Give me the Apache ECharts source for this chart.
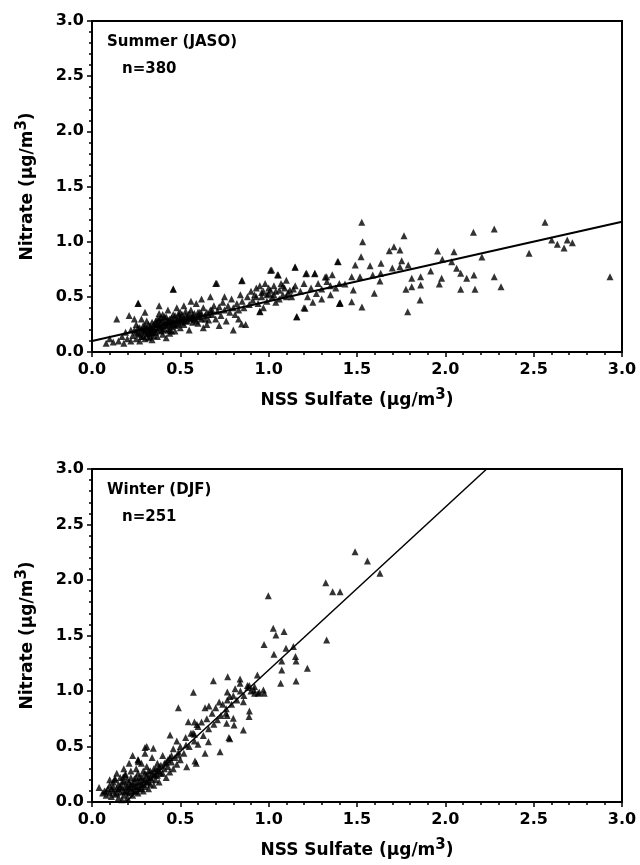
<!DOCTYPE html>
<html>
<head>
<meta charset="utf-8">
<script src="https://cdn.jsdelivr.net/npm/echarts@6/dist/echarts.min.js"></script>
<style>html,body{margin:0;padding:0;background:#fff}#c{width:640px;height:865px}</style>
</head>
<body>
<div id="c"></div>
<script>
// ---- Data ----
var axisTicks = [0.0, 0.5, 1.0, 1.5, 2.0, 2.5, 3.0];
var summerLabel = 'Summer (JASO)';
var summerN = 'n=380';
var winterLabel = 'Winter (DJF)';
var winterN = 'n=251';

var summerPoints = [
 [0.08,0.08],[0.1,0.12],[0.12,0.09],[0.14,0.3],[0.15,0.1],[0.17,0.14],[0.18,0.08],[0.2,0.12],[0.21,0.33],[0.22,0.1],[0.19,0.18],
 [0.23,0.15],[0.24,0.2],[0.25,0.12],[0.25,0.25],[0.26,0.17],[0.27,0.22],[0.27,0.1],[0.28,0.14],[0.28,0.3],[0.29,0.19],[0.3,0.12],[0.3,0.24],[0.31,0.16],[0.31,0.28],[0.32,0.2],[0.32,0.13],[0.33,0.23],[0.33,0.17],[0.34,0.11],[0.34,0.27],[0.35,0.21],[0.35,0.15],[0.26,0.44],[0.3,0.36],[0.24,0.3],[0.22,0.2],
 [0.25,0.18],[0.26,0.22],[0.27,0.16],[0.28,0.2],[0.29,0.24],[0.29,0.14],[0.3,0.18],[0.3,0.21],[0.31,0.22],[0.32,0.25],[0.32,0.17],[0.33,0.2],[0.33,0.14],[0.34,0.22],[0.34,0.18],[0.35,0.25],[0.35,0.18],[0.36,0.22],[0.36,0.28],[0.37,0.2],[0.37,0.26],[0.38,0.25],[0.38,0.3],[0.39,0.23],[0.39,0.31],[0.4,0.2],[0.4,0.34],[0.41,0.26],[0.42,0.24],[0.42,0.32],[0.43,0.2],[0.43,0.29],[0.44,0.26],[0.45,0.31],[0.45,0.19],[0.46,0.25],[0.46,0.28],[0.47,0.33],[0.47,0.24],[0.48,0.29],[0.49,0.26],[0.49,0.35],[0.5,0.31],[0.51,0.27],[0.51,0.34],[0.52,0.3],[0.53,0.28],[0.53,0.37],[0.54,0.32],[0.55,0.35],[0.56,0.3],[0.57,0.31],[0.58,0.35],[0.59,0.28],[0.6,0.36],[0.61,0.32],[0.62,0.35],[0.64,0.3],[0.66,0.34],[0.68,0.38],
 [0.36,0.18],[0.36,0.25],[0.37,0.3],[0.37,0.14],[0.38,0.22],[0.38,0.35],[0.39,0.19],[0.39,0.27],[0.4,0.24],[0.4,0.16],[0.41,0.32],[0.41,0.21],[0.42,0.28],[0.42,0.13],[0.43,0.25],[0.43,0.38],[0.44,0.2],[0.44,0.3],[0.45,0.23],[0.45,0.27],[0.46,0.34],[0.46,0.57],[0.47,0.19],[0.47,0.29],[0.48,0.25],[0.48,0.4],[0.49,0.31],[0.5,0.22],[0.5,0.28],[0.5,0.36],[0.38,0.42],[0.44,0.17],[0.4,0.29],
 [0.51,0.3],[0.52,0.25],[0.52,0.42],[0.53,0.33],[0.54,0.28],[0.55,0.31],[0.55,0.2],[0.56,0.38],[0.57,0.27],[0.57,0.34],[0.58,0.3],[0.59,0.44],[0.6,0.32],[0.6,0.26],[0.61,0.36],[0.62,0.3],[0.63,0.4],[0.63,0.22],[0.64,0.33],[0.65,0.36],[0.66,0.29],[0.67,0.38],[0.67,0.5],[0.68,0.34],[0.69,0.42],[0.7,0.3],[0.7,0.62],[0.62,0.48],[0.56,0.46],[0.65,0.25],
 [0.71,0.37],[0.72,0.41],[0.73,0.33],[0.74,0.45],[0.75,0.38],[0.76,0.28],[0.77,0.42],[0.78,0.36],[0.79,0.48],[0.8,0.4],[0.8,0.2],[0.81,0.34],[0.82,0.44],[0.83,0.38],[0.84,0.52],[0.85,0.46],[0.85,0.65],[0.86,0.4],[0.87,0.25],[0.88,0.5],[0.89,0.43],[0.9,0.55],[0.75,0.5],[0.72,0.24],[0.83,0.3],
 [0.91,0.47],[0.92,0.52],[0.93,0.58],[0.94,0.44],[0.95,0.37],[0.95,0.6],[0.96,0.5],[0.97,0.55],[0.98,0.62],[0.99,0.46],[1.0,0.53],[1.0,0.58],[1.01,0.74],[1.02,0.5],[1.03,0.6],[1.04,0.55],[1.05,0.7],[1.06,0.48],[1.07,0.62],[1.08,0.52],[1.09,0.58],[1.1,0.5],[1.1,0.65],[0.97,0.4],[1.04,0.45],
 [0.93,0.5],[0.96,0.54],[0.99,0.52],[1.01,0.56],[1.03,0.52],[1.06,0.56],[1.08,0.6],[1.11,0.54],[1.14,0.57],
 [1.12,0.56],[1.13,0.5],[1.15,0.77],[1.15,0.6],[1.16,0.32],[1.18,0.55],[1.2,0.62],[1.21,0.71],[1.22,0.5],[1.24,0.58],[1.26,0.71],[1.27,0.53],[1.28,0.62],[1.3,0.57],[1.32,0.68],[1.33,0.64],[1.35,0.6],[1.36,0.7],[1.38,0.58],[1.39,0.82],[1.4,0.44],[1.4,0.62],[1.2,0.4],[1.25,0.45],[1.3,0.48],[1.35,0.52],
 [1.394,0.818],[1.215,0.713],[1.149,0.768],[1.017,0.743],[1.055,0.698],[1.262,0.713],[0.847,0.646],[0.706,0.622],[0.46,0.568],[0.262,0.441],[1.404,0.441],[1.158,0.32],[0.847,0.254],[1.206,0.396],[0.951,0.365],[1.328,0.683],
 [1.527,1.175],[1.532,1.0],[1.766,1.054],[2.159,1.085],[2.277,1.115],[2.564,1.175],[2.602,1.015],[2.634,0.976],[2.672,0.943],[2.69,1.015],[2.719,0.991],[2.474,0.894],[2.932,0.683],[2.315,0.592],[2.277,0.683],[2.168,0.568],[2.162,0.698],[2.121,0.668],[2.087,0.568],[2.064,0.759],[2.087,0.713],[2.207,0.861],[2.049,0.909],[2.036,0.818],[1.983,0.84],[1.956,0.915],[1.979,0.668],[1.966,0.616],[1.917,0.734],[1.857,0.471],[1.86,0.607],[1.86,0.683],[1.81,0.592],[1.81,0.668],[1.777,0.568],[1.79,0.789],[1.753,0.828],[1.743,0.925],[1.709,0.955],[1.683,0.918],[1.743,0.773],[1.70,0.761],[1.636,0.804],[1.634,0.713],[1.63,0.643],[1.589,0.698],[1.598,0.532],[1.574,0.782],[1.523,0.864],[1.49,0.789],[1.517,0.683],[1.47,0.683],[1.432,0.616],[1.479,0.562],[1.47,0.456],[1.528,0.408],[1.787,0.365],[1.404,0.447]
];
var summerFit = [[0.0,0.10],[3.0,1.18]];

var winterPoints = [
 [0.04,0.13],[0.06,0.08],[0.07,0.1],[0.08,0.06],[0.09,0.12],[0.1,0.08],[0.1,0.15],[0.11,0.05],[0.12,0.1],[0.12,0.18],[0.13,0.2],[0.13,0.07],[0.14,0.12],[0.15,0.04],[0.15,0.16],[0.16,0.09],[0.16,0.22],[0.17,0.02],[0.17,0.13],[0.18,0.06],[0.18,0.19],[0.19,0.1],[0.19,0.25],[0.2,0.14],[0.2,0.04],[0.21,0.18],[0.21,0.08],[0.22,0.12],[0.22,0.28],[0.23,0.16],[0.23,0.06],[0.24,0.21],[0.24,0.1],[0.25,0.14],[0.25,0.3],[0.26,0.18],[0.26,0.08],[0.27,0.23],[0.27,0.12],[0.28,0.16],[0.28,0.35],[0.29,0.2],[0.29,0.1],[0.3,0.26],[0.3,0.14],[0.31,0.18],[0.31,0.32],[0.32,0.22],[0.32,0.12],[0.33,0.28],[0.33,0.16],[0.34,0.2],[0.34,0.4],[0.35,0.25],[0.35,0.15],[0.36,0.3],[0.36,0.2],[0.37,0.35],[0.37,0.24],[0.38,0.28],[0.38,0.18],[0.39,0.33],[0.4,0.26],[0.4,0.42],[0.41,0.3],[0.42,0.36],[0.42,0.22],[0.43,0.32],[0.44,0.4],[0.44,0.27],[0.45,0.36],[0.46,0.3],[0.46,0.48],[0.47,0.4],[0.48,0.34],[0.48,0.55],[0.49,0.45],[0.5,0.38],[0.5,0.5],[0.14,0.26],[0.18,0.3],[0.21,0.35],[0.26,0.38],[0.3,0.44],[0.23,0.42],[0.1,0.2],
 [0.08,0.1],[0.11,0.12],[0.12,0.14],[0.14,0.08],[0.15,0.12],[0.16,0.14],[0.17,0.18],[0.18,0.1],[0.19,0.15],[0.2,0.2],[0.2,0.09],[0.21,0.13],[0.22,0.16],[0.22,0.22],[0.23,0.1],[0.24,0.14],[0.24,0.18],[0.25,0.22],[0.25,0.1],[0.26,0.26],[0.26,0.14],[0.27,0.18],[0.28,0.22],[0.28,0.12],[0.29,0.16],[0.29,0.28],[0.3,0.2],[0.31,0.24],[0.32,0.18],[0.32,0.28],[0.33,0.22],[0.34,0.26],[0.35,0.3],[0.36,0.24],[0.37,0.28],[0.38,0.32],[0.39,0.26],[0.41,0.35],[0.43,0.38],[0.45,0.42],
 [0.52,0.44],[0.53,0.58],[0.55,0.5],[0.56,0.62],[0.58,0.55],[0.6,0.68],[0.6,0.52],[0.62,0.72],[0.63,0.6],[0.65,0.75],[0.66,0.66],[0.68,0.8],[0.69,0.7],[0.7,0.85],[0.71,0.74],[0.72,0.9],[0.73,0.78],[0.74,0.88],[0.76,0.84],[0.78,0.95],[0.79,0.88],[0.81,1.02],[0.82,0.92],[0.84,1.0],[0.86,0.96],[0.88,1.05],[0.9,1.0],[0.92,1.04],[0.94,0.98],
 [1.323,1.976],[1.362,1.895],[1.404,1.895],[0.998,1.859],[1.026,1.565],[1.041,1.505],[1.087,1.535],[0.974,1.42],[1.328,1.459],[1.03,1.33],[1.098,1.385],[1.14,1.4],[1.152,1.31],[1.155,1.27],[1.219,1.204],[1.074,1.27],[1.074,1.189],[1.068,1.069],[1.155,1.09],[0.97,1.01],[0.975,0.98],[0.936,1.144],[0.687,1.093],[0.768,1.129],[0.838,1.108],[0.838,1.07],[0.883,1.032],[0.89,1.05],[0.917,1.009],[0.92,0.98],[0.947,0.988],[0.574,0.988],[0.489,0.85],[0.662,0.865],[0.64,0.85],[0.766,0.991],[0.766,0.92],[0.8,0.958],[0.857,0.904],[0.891,0.82],[0.889,0.77],[0.8,0.754],[0.758,0.8],[0.765,0.78],[0.762,0.709],[0.775,0.581],[0.78,0.57],[0.804,0.694],[0.857,0.649],[0.725,0.453],[0.64,0.439],[0.659,0.543],[0.594,0.698],[0.58,0.72],[0.545,0.724],[0.572,0.622],[0.58,0.61],[0.442,0.604],[0.532,0.514],[0.583,0.369],[0.59,0.35],[0.536,0.318],[0.489,0.423],[0.262,0.378],[0.3,0.491],[0.31,0.5],[0.347,0.484],[0.13,0.213],[0.177,0.228],[0.262,0.363],[0.187,0.243],
 [1.489,2.255],[1.559,2.171],[1.63,2.06]
];
var winterFit = [[0.19,0.0],[2.234,3.0]];

var xTitle = 'NSS Sulfate (μg/m{s|3})';
var yTitle = 'Nitrate (μg/m{s|3})';

// ---- Chart ----
var FONT = 'DejaVu Sans';
function xAx(idx) {
  return {
    gridIndex: idx, type: 'value', min: 0, max: 3, interval: 0.5,
    axisLine: {show: true, lineStyle: {color: '#000', width: 2}},
    axisTick: {show: true, length: 5, lineStyle: {color: '#000', width: 1.5}},
    minorTick: {show: true, splitNumber: 5, length: 3, lineStyle: {color: '#000', width: 1.5}},
    splitLine: {show: false},
    axisLabel: {color: '#000', fontFamily: FONT, fontWeight: 'bold', fontSize: 16, margin: 10,
      formatter: function (v) { return v.toFixed(1); }},
    name: xTitle, nameLocation: 'middle', nameGap: 36,
    nameTextStyle: {color: '#000', fontFamily: FONT, fontSize: 17, fontWeight: 'bold',
      rich: {s: {fontSize: 15, fontFamily: FONT, fontWeight: 'bold', color: '#000', verticalAlign: 'top', padding: [0, 0, 10, 0]}}}
  };
}
function yAx(idx) {
  return {
    gridIndex: idx, type: 'value', min: 0, max: 3, interval: 0.5,
    axisLine: {show: true, lineStyle: {color: '#000', width: 2}},
    axisTick: {show: true, length: 5, lineStyle: {color: '#000', width: 1.5}},
    minorTick: {show: true, splitNumber: 5, length: 3, lineStyle: {color: '#000', width: 1.5}},
    splitLine: {show: false},
    axisLabel: {color: '#000', fontFamily: FONT, fontWeight: 'bold', fontSize: 16, margin: 8,
      formatter: function (v) { return v.toFixed(1); }},
    name: yTitle, nameLocation: 'middle', nameGap: 52, nameRotate: 90,
    nameTextStyle: {color: '#000', fontFamily: FONT, fontSize: 17, fontWeight: 'bold',
      rich: {s: {fontSize: 15, fontFamily: FONT, fontWeight: 'bold', color: '#000', verticalAlign: 'top', padding: [0, 0, 10, 0]}}}
  };
}
var chart = echarts.init(document.getElementById('c'), null, {renderer: 'canvas'});
chart.setOption({
  animation: false,
  backgroundColor: '#fff',
  grid: [
    {left: 92, top: 21, width: 530, height: 331, show: true, borderColor: '#000', borderWidth: 2, backgroundColor: 'transparent'},
    {left: 92, top: 469, width: 530, height: 333, show: true, borderColor: '#000', borderWidth: 2, backgroundColor: 'transparent'}
  ],
  xAxis: [xAx(0), xAx(1)],
  yAxis: [yAx(0), yAx(1)],
  graphic: [
    {type: 'text', left: 107, top: 35, style: {text: summerLabel, fill: '#000', font: 'bold 15px "DejaVu Sans"'}},
    {type: 'text', left: 122, top: 62, style: {text: summerN, fill: '#000', font: 'bold 15px "DejaVu Sans"'}},
    {type: 'text', left: 107, top: 483, style: {text: winterLabel, fill: '#000', font: 'bold 15px "DejaVu Sans"'}},
    {type: 'text', left: 122, top: 510, style: {text: winterN, fill: '#000', font: 'bold 15px "DejaVu Sans"'}}
  ],
  series: [
    {type: 'scatter', xAxisIndex: 0, yAxisIndex: 0, data: summerPoints, symbol: 'triangle', symbolSize: 7, itemStyle: {color: '#000'}},
    {type: 'line', xAxisIndex: 0, yAxisIndex: 0, data: summerFit, showSymbol: false, symbol: 'none', lineStyle: {color: '#000', width: 2}},
    {type: 'scatter', xAxisIndex: 1, yAxisIndex: 1, data: winterPoints, symbol: 'triangle', symbolSize: 7, itemStyle: {color: '#000'}},
    {type: 'line', xAxisIndex: 1, yAxisIndex: 1, data: winterFit, showSymbol: false, symbol: 'none', lineStyle: {color: '#000', width: 1.5}}
  ]
});
</script>
</body>
</html>
